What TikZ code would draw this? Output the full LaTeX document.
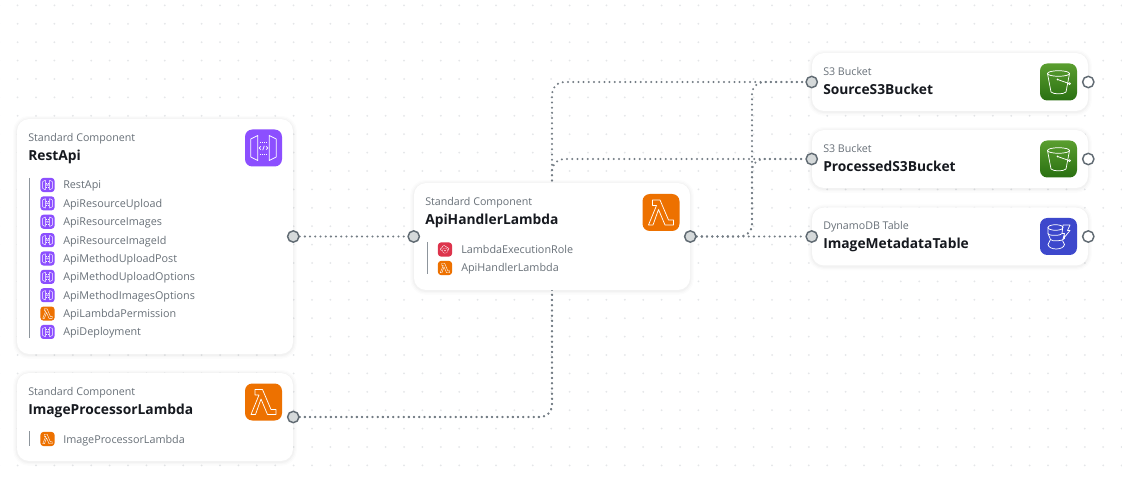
\documentclass[tikz,border=0pt]{standalone}
\usepackage{fontspec}
\setmainfont{Open Sans}
\usetikzlibrary{backgrounds}

\definecolor{griddot}{HTML}{E4E6E8}
\definecolor{wirecol}{HTML}{737C84}
\definecolor{portline}{HTML}{616B73}
\definecolor{portfill}{HTML}{D5D9DA}
\definecolor{subcol}{HTML}{687078}
\definecolor{titlecol}{HTML}{16191F}
\definecolor{stemcol}{HTML}{8D959C}
\definecolor{apipurple}{HTML}{8C4FFF}
\definecolor{lambdaorange}{HTML}{ED7100}
\definecolor{rolered}{HTML}{DD344C}
\definecolor{bucketdark}{HTML}{2A7012}
\definecolor{bucketlight}{HTML}{5A9E2F}
\definecolor{tableblue}{HTML}{3D48CC}

\tikzset{cardbox/.style = {draw = none, fill = white, rounded corners = 9pt, inner sep = 0,
                           minimum width = 276*0.75pt,
                           preaction = {draw = black, opacity = 0.012, line width = 6pt, transform canvas = {yshift = -0.6pt}},
                           preaction = {draw = black, opacity = 0.016, line width = 4pt, transform canvas = {yshift = -0.6pt}},
                           preaction = {draw = black, opacity = 0.022, line width = 2pt, transform canvas = {yshift = -0.6pt}}}}
\tikzset{subtitle/.style = {anchor = base west, inner sep = 0, text = subcol, font = \fontsize{8}{10}\selectfont}}
\tikzset{cardtitle/.style = {anchor = base west, inner sep = 0, text = titlecol, font = \fontsize{10.35}{13}\selectfont\bfseries}}
\tikzset{itemlabel/.style = {anchor = base west, inner sep = 0, text = subcol, font = \fontsize{8.1}{10}\selectfont}}
\tikzset{port/.style = {draw = portline, fill = portfill, circle, line width = 1.1pt, inner sep = 0, minimum size = 8.5pt}}
\tikzset{freeport/.style = {port, fill = white}}
\tikzset{griddotted/.style = {fill = griddot}}
\tikzset{wire/.style = {draw = wirecol, line width = 1.7pt, line cap = round, dash pattern = on 0pt off 3.9pt, rounded corners = 9pt}}
\tikzset{iconround/.style = {rounded corners = 5.5pt}}
\tikzset{iconline/.style = {draw = white, line width = 0.55pt, line join = round}}
\tikzset{small/.style = {scale = 0.38, iconround/.style = {rounded corners = 2.2pt},
                         iconline/.style = {draw = white, line width = 0.3pt, line join = round}}}

\tikzset{pics/lambdaicon/.style = {code = {
  \fill [lambdaorange, iconround] (-18.5, -18.5) rectangle (18.5, 18.5);
  \draw [iconline] (-8.5, -12.5) -- (-1, -12.5) -- (7.5, 7.5) -- (12.5, 7.5) -- (12.5, 12.5) -- (4, 12.5)
    -- (-2.5, -3) -- (-8, 12.5) -- (-12.5, 12.5) -- (-4.5, -7) -- (-8.5, -7) -- cycle;
}}}
\tikzset{pics/apiicon/.style = {code = {
  \fill [apipurple, iconround] (-18.5, -18.5) rectangle (18.5, 18.5);
  \draw [iconline] (-12.7, -9) -- (-5.7, -12.5) -- (-5.7, 12.5) -- (-12.7, 9) -- cycle;
  \draw [iconline] (12.7, -9) -- (5.7, -12.5) -- (5.7, 12.5) -- (12.7, 9) -- cycle;
  \draw [iconline, dash pattern = on 0.8pt off 0.8pt] (-4, -6) -- (4, -6) (-4, 6) -- (4, 6);
  \draw [iconline] (-2.6, -1.6) -- (-4.4, 0) -- (-2.6, 1.6) (2.6, -1.6) -- (4.4, 0) -- (2.6, 1.6) (-0.8, 2.2) -- (0.8, -2.2);
}}}
\tikzset{pics/bucketicon/.style = {code = {
  \shade [top color = bucketlight, bottom color = bucketdark, iconround] (-18.5, -18.5) rectangle (18.5, 18.5);
  \draw [iconline] (0, -8.5) ellipse [x radius = 11, y radius = 2.8];
  \draw [iconline] (-11, -8.5) -- (-7.5, 10) .. controls (-5, 12.5) and (5, 12.5) .. (7.5, 10) -- (11, -8.5);
  \draw [iconline] (-1, -2.5) -- (10.5, 1.5);
  \fill [white] (-1, -2.5) circle [radius = 1];
  \draw [iconline] (11, 1.7) circle [radius = 1];
}}}
\tikzset{pics/tableicon/.style = {code = {
  \fill [tableblue, iconround] (-18.5, -18.5) rectangle (18.5, 18.5);
  \draw [iconline] (-3, -9) ellipse [x radius = 7.5, y radius = 2.8];
  \draw [iconline] (-10.5, -9) -- (-10.5, -3) .. controls (-10.5, -0.5) and (3, -0.5) .. (3, -3);
  \draw [iconline] (-10.5, -3) -- (-8, 3) .. controls (-7, 5) and (4, 5) .. (6, 2) -- (6, -1);
  \draw [iconline] (-8, 3) -- (-10.5, 8) .. controls (-9.5, 14) and (5, 14) .. (6, 8) -- (4, 4);
  \draw [iconline] (4.5, -11.5) -- (11.5, -11.5) -- (9, -6) -- (11.5, -6) -- (4.5, 2.5) -- (6, -3) -- (3.5, -3) -- cycle;
}}}
\tikzset{pics/roleicon/.style = {code = {
  \fill [rolered, iconround] (-18.5, -18.5) rectangle (18.5, 18.5);
  \draw [iconline] (-9, 3) .. controls (-14, 3) and (-14, -5) .. (-8, -5)
    .. controls (-7, -12) and (3, -12) .. (5, -6) .. controls (10, -7) and (13, 0) .. (8, 3);
  \draw [iconline, dash pattern = on 0.5pt off 0.5pt] (0, 3) circle [radius = 7];
  \fill [white] (0, 3) circle [radius = 2];
}}}

\begin{document}
\begin{tikzpicture}[x = 0.75pt, y = -0.75pt]
  \useasboundingbox (0, 0) rectangle (1122, 481);

  % cards
  \node [cardbox, minimum height = 235*0.75pt] (restCard) at (155, 236.5) {};
  \node [cardbox, minimum height = 88*0.75pt] (imageCard) at (155, 417) {};
  \node [cardbox, minimum height = 107*0.75pt] (handlerCard) at (552, 236.5) {};
  \node [cardbox, minimum height = 58*0.75pt] (sourceCard) at (950, 82) {};
  \node [cardbox, minimum height = 58*0.75pt] (processedCard) at (950, 159) {};
  \node [cardbox, minimum height = 58*0.75pt] (tableCard) at (950, 236.5) {};

  % headings
  \node [subtitle] (restSub) at (28, 141.5) {Standard Component};
  \node [cardtitle] (restName) at (28, 161) {RestApi};
  \node [subtitle] (imageSub) at (28, 395.5) {Standard Component};
  \node [cardtitle] (imageName) at (28, 414.5) {ImageProcessorLambda};
  \node [subtitle] (handlerSub) at (425, 205.5) {Standard Component};
  \node [cardtitle] (handlerName) at (425, 225) {ApiHandlerLambda};
  \node [subtitle] (sourceSub) at (823, 75.5) {S3 Bucket};
  \node [cardtitle] (sourceName) at (823, 94.5) {SourceS3Bucket};
  \node [subtitle] (processedSub) at (823, 152.5) {S3 Bucket};
  \node [cardtitle] (processedName) at (823, 171.5) {ProcessedS3Bucket};
  \node [subtitle] (tableSub) at (823, 230) {DynamoDB Table};
  \node [cardtitle] (tableName) at (823, 249) {ImageMetadataTable};

  % big icons
  \pic at (263.5, 148) {apiicon};
  \pic at (263.5, 402) {lambdaicon};
  \pic at (661, 212.5) {lambdaicon};
  \pic at (1058.5, 82) {bucketicon};
  \pic at (1058.5, 159) {bucketicon};
  \pic at (1058.5, 236.5) {tableicon};

  % resource lists
  \draw [stemcol] (29.5, 178) -- (29.5, 338);
  \foreach \itemname/\itemicon [count = \i from 0] in {RestApi/apiicon, ApiResourceUpload/apiicon,
      ApiResourceImages/apiicon, ApiResourceImageId/apiicon, ApiMethodUploadPost/apiicon,
      ApiMethodUploadOptions/apiicon, ApiMethodImagesOptions/apiicon,
      ApiLambdaPermission/lambdaicon, ApiDeployment/apiicon} {
    \pic [small] at (47.5, {185 + 18.37*\i}) {\itemicon};
    \node [itemlabel] (restItem\i) at (63, {189 + 18.37*\i}) {\itemname};
  }
  \draw [stemcol] (29.5, 431) -- (29.5, 446);
  \pic [small] at (47.5, 439) {lambdaicon};
  \node [itemlabel] (imageItem) at (63, 443) {ImageProcessorLambda};
  \draw [stemcol] (427.5, 242) -- (427.5, 274);
  \pic [small] at (445, 249.5) {roleicon};
  \node [itemlabel] (handlerRole) at (461, 253.5) {LambdaExecutionRole};
  \pic [small] at (445, 268) {lambdaicon};
  \node [itemlabel] (handlerItem) at (461, 272) {ApiHandlerLambda};

  % ports
  \node [port] (restOut) at (restCard.east) {};
  \node [port] (imageOut) at (imageCard.east) {};
  \node [port] (handlerIn) at (handlerCard.west) {};
  \node [port] (handlerOut) at (handlerCard.east) {};
  \node [port] (sourceIn) at (sourceCard.west) {};
  \node [port] (processedIn) at (processedCard.west) {};
  \node [port] (tableIn) at (tableCard.west) {};
  \node [freeport] (sourceOut) at (sourceCard.east) {};
  \node [freeport] (processedOut) at (processedCard.east) {};
  \node [freeport] (tableOut) at (tableCard.east) {};
  \coordinate (busHigh) at (752, 200);

  \begin{pgfonlayer}{background}
    \fill [white] (0, 0) rectangle (1122, 481);
    \foreach \i in {0, ..., 61} {
      \foreach \j in {0, ..., 26} {
        \fill [griddotted] ({-0.8 + 18.4*\i}, {5.4 + 18.4*\j}) circle [radius = 1];
      }
    }
    \draw [wire] (restOut) -- (handlerIn);
    \draw [wire] (imageOut) -| (handlerCard.center) |- (sourceIn);
    \draw [wire] (imageOut) -| (handlerCard.center) |- (processedIn);
    \draw [wire] (handlerOut) -| (busHigh) |- (sourceIn);
    \draw [wire] (handlerOut) -| (busHigh) |- (processedIn);
    \draw [wire] (handlerOut) -- (tableIn);
  \end{pgfonlayer}
\end{tikzpicture}
\end{document}
